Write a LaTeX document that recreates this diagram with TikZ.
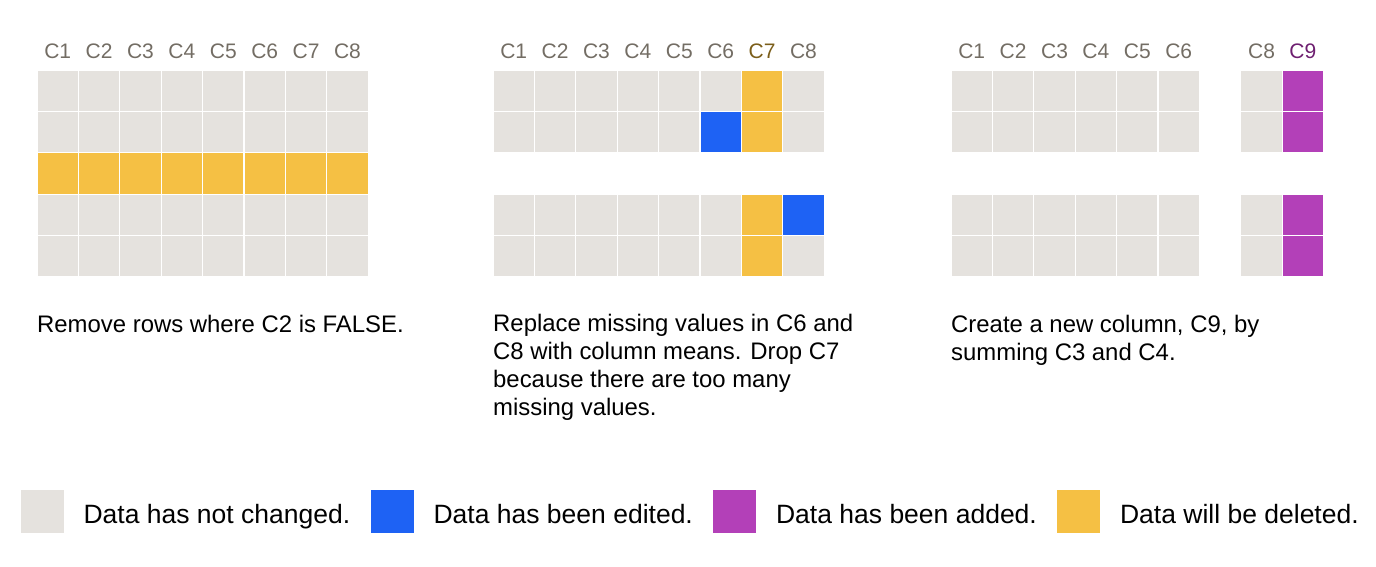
\documentclass[tikz,border=0pt]{standalone}
\usepackage{fontspec}
\setmainfont{Liberation Sans}
\definecolor{unchanged}{HTML}{E5E2DE}
\definecolor{edited}{HTML}{1E62F4}
\definecolor{added}{HTML}{B340B8}
\definecolor{deleted}{HTML}{F5C044}
\definecolor{labelgrey}{HTML}{736D64}
\definecolor{labelgold}{HTML}{7B5E1A}
\definecolor{labelpurple}{HTML}{6E1F70}
\tikzset{
  cell/.style={fill=unchanged, draw=white, line width=1.2pt, minimum size=41.4pt, inner sep=0pt},
  collabel/.style={text=labelgrey, font=\fontsize{21}{25}\selectfont, anchor=base, inner sep=0pt},
  caption/.style={font=\fontsize{23.9}{27.7}\selectfont, anchor=base west, align=left, inner sep=0pt},
  legendbox/.style={draw=white, line width=0.8pt, minimum size=44pt, inner sep=0pt},
  legendtext/.style={font=\fontsize{26.5}{30}\selectfont, anchor=base west, inner sep=0pt}
}
\begin{document}
\begin{tikzpicture}[x=1pt, y=-1pt]
    \useasboundingbox (0,0) rectangle (1376,566);

    % panel 1: remove a row
    \foreach \c in {1,...,8} {
        \node[collabel] (pa-l\c) at ({37+(\c-0.5)*41.4},58) {C\c};
        \foreach \r/\col in {1/unchanged,2/unchanged,3/deleted,4/unchanged,5/unchanged}
            \node[cell, fill=\col] (pa-\c-\r) at ({37+(\c-0.5)*41.4},{70+(\r-0.5)*41.4}) {};
    }
    \node[caption] (pa-text) at (37,332) {Remove rows where C2 is FALSE.};

    % panel 2: replace and drop (base = last line)
    \foreach \c/\ca/\cb/\cd/\ce in {1/unchanged/unchanged/unchanged/unchanged,
        2/unchanged/unchanged/unchanged/unchanged, 3/unchanged/unchanged/unchanged/unchanged,
        4/unchanged/unchanged/unchanged/unchanged, 5/unchanged/unchanged/unchanged/unchanged,
        6/unchanged/edited/unchanged/unchanged, 7/deleted/deleted/deleted/deleted,
        8/unchanged/unchanged/edited/unchanged} {
        \node[cell, fill=\ca] (pb-\c-1) at ({493+(\c-0.5)*41.4},{70+0.5*41.4}) {};
        \node[cell, fill=\cb] (pb-\c-2) at ({493+(\c-0.5)*41.4},{70+1.5*41.4}) {};
        \node[cell, fill=\cd] (pb-\c-4) at ({493+(\c-0.5)*41.4},{70+3.5*41.4}) {};
        \node[cell, fill=\ce] (pb-\c-5) at ({493+(\c-0.5)*41.4},{70+4.5*41.4}) {};
    }
    \foreach \c in {1,...,6,8}
        \node[collabel] (pb-l\c) at ({493+(\c-0.5)*41.4},58) {C\c};
    \node[collabel, text=labelgold] (pb-l7) at ({493+6.5*41.4},58) {C7};
    \node[caption] (pb-text) at (493,415) {Replace missing values in C6 and\\C8 with column means. Drop C7\\because there are too many\\missing values.};

    % panel 3: add a column
    \foreach \c/\col in {1/unchanged,2/unchanged,3/unchanged,4/unchanged,
        5/unchanged,6/unchanged,8/unchanged,9/added} {
        \foreach \r in {1,2,4,5}
            \node[cell, fill=\col] (pc-\c-\r) at ({951+(\c-0.5)*41.4},{70+(\r-0.5)*41.4}) {};
    }
    \foreach \c in {1,...,6,8}
        \node[collabel] (pc-l\c) at ({951+(\c-0.5)*41.4},58) {C\c};
    \node[collabel, text=labelpurple] (pc-l9) at ({951+8.5*41.4},58) {C9};
    \node[caption] (pc-text) at (951,360) {Create a new column, C9, by\\summing C3 and C4.};

    % legend
    \node[legendbox, fill=unchanged] (lg-a) at (42,511) {};
    \node[legendbox, fill=edited] (lg-b) at (392,511) {};
    \node[legendbox, fill=added] (lg-c) at (734.5,511) {};
    \node[legendbox, fill=deleted] (lg-d) at (1078.5,511) {};
    \node[legendtext] (lt-a) at ([xshift=19pt, yshift=-12pt]lg-a.east) {Data has not changed.};
    \node[legendtext] (lt-b) at ([xshift=19pt, yshift=-12pt]lg-b.east) {Data has been edited.};
    \node[legendtext] (lt-c) at ([xshift=19pt, yshift=-12pt]lg-c.east) {Data has been added.};
    \node[legendtext] (lt-d) at ([xshift=19pt, yshift=-12pt]lg-d.east) {Data will be deleted.};
\end{tikzpicture}
\end{document}
